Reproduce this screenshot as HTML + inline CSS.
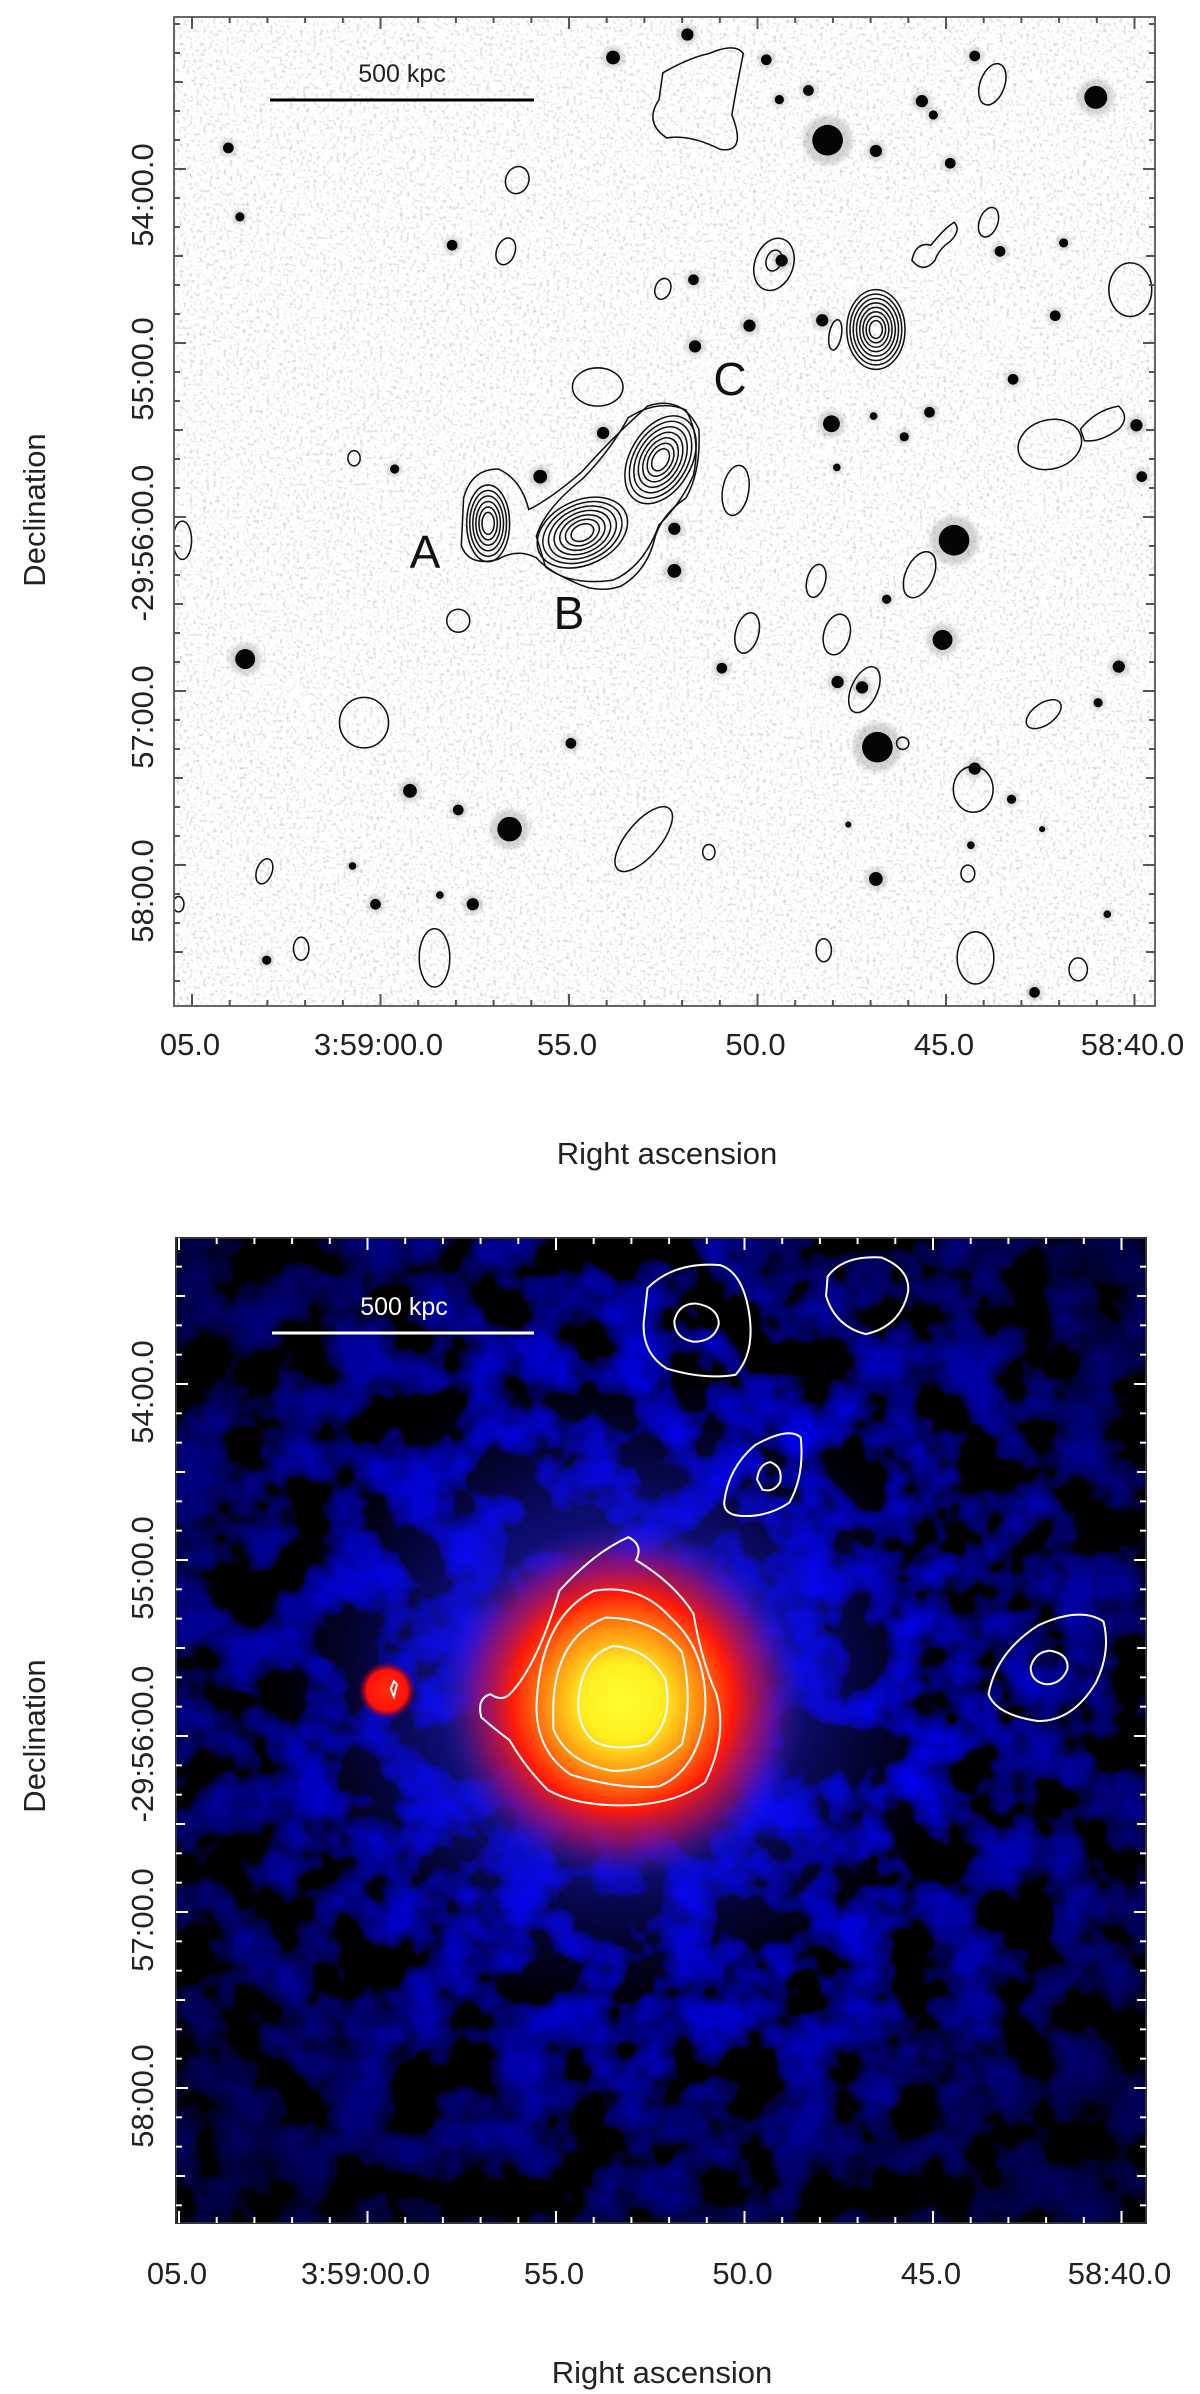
<!DOCTYPE html>
<html><head><meta charset="utf-8"><style>
html,body{margin:0;padding:0;background:#fff;}
svg{display:block;font-family:"Liberation Sans",sans-serif;}
</style></head><body>
<svg id="fig" width="1200" height="2394" viewBox="0 0 1200 2394" xmlns="http://www.w3.org/2000/svg">
<defs>
<filter id="speckle" x="0" y="0" width="100%" height="100%">
<feTurbulence type="fractalNoise" baseFrequency="0.3" numOctaves="2" seed="3"/>
<feColorMatrix type="matrix" values="0 0 0 0 0  0 0 0 0 0  0 0 0 0 0  -3 0 0 0 1.45"/>
</filter>
<filter id="bluenoise" x="0" y="0" width="100%" height="100%">
<feTurbulence type="fractalNoise" baseFrequency="0.018" numOctaves="3" seed="7"/>
<feColorMatrix type="matrix" values="0 0 0 0 0  0 0 0 0 0  3.2 0 0 0 -1.35  0 0 0 0 1"/>
</filter>
<filter id="blur3"><feGaussianBlur stdDeviation="3"/></filter>
<radialGradient id="vignette" cx="0.5" cy="0.45" r="0.62">
<stop offset="0" stop-color="#000" stop-opacity="0"/>
<stop offset="0.45" stop-color="#000" stop-opacity="0.1"/>
<stop offset="1" stop-color="#000" stop-opacity="0.65"/>
</radialGradient>
<radialGradient id="halo" cx="0.5" cy="0.5" r="0.5">
<stop offset="0" stop-color="#3030ff" stop-opacity="0.8"/>
<stop offset="0.55" stop-color="#1a1aee" stop-opacity="0.45"/>
<stop offset="1" stop-color="#0000aa" stop-opacity="0"/>
</radialGradient>
<radialGradient id="core" cx="0.5" cy="0.5" r="0.5">
<stop offset="0" stop-color="#ffff30"/>
<stop offset="0.22" stop-color="#ffee20"/>
<stop offset="0.42" stop-color="#ff8a10"/>
<stop offset="0.6" stop-color="#ff1a08"/>
<stop offset="0.8" stop-color="#b0105a" stop-opacity="0.6"/>
<stop offset="1" stop-color="#3020c0" stop-opacity="0"/>
</radialGradient>
<radialGradient id="pt" cx="0.5" cy="0.5" r="0.5">
<stop offset="0" stop-color="#ff3010"/>
<stop offset="0.7" stop-color="#ff1008"/>
<stop offset="1" stop-color="#600040" stop-opacity="0"/>
</radialGradient>
<clipPath id="clipTop"><rect x="174" y="17" width="981" height="989"/></clipPath>
<clipPath id="clipBot"><rect x="176" y="1238" width="970" height="985"/></clipPath>
</defs>

<!-- TOP PANEL -->
<g>
<rect x="174" y="17" width="981" height="989" fill="#fff"/>
<g clip-path="url(#clipTop)">
<rect x="174" y="17" width="981" height="989" fill="#000" filter="url(#speckle)" opacity="0.18"/>
<g id="stars" transform="scale(0.7663)"></g>
<g id="contoursTop" transform="scale(0.7663)" fill="none" stroke="#111" stroke-width="2"></g>
</g>
<rect x="174" y="17" width="981" height="989" fill="none" stroke="#666" stroke-width="2"/>
<g id="ticksTop" stroke="#555" stroke-width="2"></g>
<line x1="270" y1="100" x2="534" y2="100" stroke="#000" stroke-width="3"/>
<text x="402" y="82" font-size="25" text-anchor="middle" fill="#222">500 kpc</text>
<text x="425" y="568" font-size="46" text-anchor="middle" fill="#111">A</text>
<text x="569" y="629" font-size="46" text-anchor="middle" fill="#111">B</text>
<text x="730" y="395" font-size="46" text-anchor="middle" fill="#111">C</text>
<g id="labelsTop" font-size="31" fill="#222"></g>
<text x="667" y="1164" font-size="31" text-anchor="middle" fill="#222">Right ascension</text>
<text transform="translate(45,510) rotate(-90)" font-size="31" text-anchor="middle" fill="#222">Declination</text>
</g>

<!-- BOTTOM PANEL -->
<g>
<rect x="176" y="1238" width="970" height="985" fill="#000"/>
<g clip-path="url(#clipBot)">
<rect x="176" y="1238" width="970" height="985" filter="url(#bluenoise)"/>
<rect x="176" y="1238" width="970" height="985" fill="url(#vignette)"/>
<g transform="translate(0,1200) scale(0.7663)">
<ellipse cx="800" cy="640" rx="450" ry="430" fill="url(#halo)"/>
<ellipse cx="812" cy="655" rx="240" ry="235" fill="url(#core)"/>
<circle cx="505" cy="640" r="38" fill="url(#pt)"/>
</g>
<g id="contoursBot" transform="translate(0,1200) scale(0.7663)" fill="none" stroke="#fff" stroke-width="2.6"></g>
</g>
<rect x="176" y="1238" width="970" height="985" fill="none" stroke="#333" stroke-width="2"/>
<g id="ticksBot" stroke="#fff" stroke-width="2"></g>
<line x1="272" y1="1333" x2="534" y2="1333" stroke="#fff" stroke-width="3"/>
<text x="404" y="1315" font-size="25" text-anchor="middle" fill="#fff">500 kpc</text>
<g id="labelsBot" font-size="31" fill="#222"></g>
<text x="662" y="2383" font-size="31" text-anchor="middle" fill="#222">Right ascension</text>
<text transform="translate(45,1736) rotate(-90)" font-size="31" text-anchor="middle" fill="#222">Declination</text>
</g>
</svg>
<script>
const NS="http://www.w3.org/2000/svg";
const raLabels=["05.0","3:59:00.0","55.0","50.0","45.0","58:40.0"];
const decLabels=["54:00.0","55:00.0","-29:56:00.0","57:00.0","58:00.0"];
const raSeconds=[65,60,55,50,45,40];
const decMinutes=[54,55,56,57,58];
// stars: x, y, radius (zoom coordinates)
const starX=[1080,1430,1245,1145,665,320,1230,897,800,1000,1272,1055,1017,1203,1218,1143,1240,298,1305,1388,1377,590,905,907,978,1073,1085,1213,1322,1140,1180,1092,1483,1490,705,515,787,880,880,1157,1093,1125,1460,942,1433,745,1272,1320,535,598,617,490,1143,1350,348,1020,313,460,1267,1445,574,1107,1360];
const starY=[183,127,705,975,1082,860,835,45,75,78,73,118,130,132,150,197,213,193,328,317,412,320,365,452,425,418,553,538,495,543,570,610,555,622,622,612,565,690,745,782,890,897,870,872,917,970,1003,1043,1032,1057,1180,1180,1147,1295,1253,340,283,1130,1103,1193,1168,1076,1082];
const starR=[20,15,20,20,16,13,13,8,9,7,7,7,6,8,6,8,7,7,7,6,7,7,7,8,8,8,11,7,7,5,6,5,8,7,9,6,8,8,9,6,8,8,8,7,6,7,8,6,9,7,8,7,9,7,6,8,6,5,5,5,5,4,4];

function mk(tag,attrs,parent){const e=document.createElementNS(NS,tag);for(const k in attrs)e.setAttribute(k,attrs[k]);parent.appendChild(e);return e;}

const sg=document.getElementById('stars');
for(let i=0;i<starX.length;i++){
  const c=mk('circle',{cx:starX[i],cy:starY[i],r:starR[i]*1.6,fill:'#888',opacity:0.35,filter:'url(#blur3)'},sg);
  
  
  const d=mk('circle',{cx:starX[i],cy:starY[i],r:starR[i],fill:'#050505'},sg);
  
  
}

const ctX=[675,660,865,1090,1290,1295,1475,780,462,960,1065,1200,598,975,1092,1128,475,1362,1270,1178,840,925,345,1263,393,567,1075,1273,1407,1370,238,233,1010,1010];
const ctY=[235,328,377,437,290,110,378,505,598,640,758,750,810,826,828,900,943,932,1030,970,1095,1112,1137,1140,1238,1250,1240,1250,1265,580,705,1180,345,340];
const ctRX=[15,12,10,8,12,16,28,33,8,17,12,18,15,15,17,17,32,26,26,8,22,8,10,9,10,20,10,24,12,42,12,7,25,10];
const ctRY=[18,18,14,20,20,28,35,25,10,33,22,32,15,27,27,32,33,14,30,8,52,10,17,11,15,38,15,34,15,32,25,10,35,14];
const ctRot=[20,20,20,10,20,20,0,0,0,10,15,25,0,15,15,25,0,-35,0,0,40,0,20,0,0,0,0,0,0,-15,0,0,20,20];
const tg=document.getElementById('contoursTop');
for(let i=0;i<ctX.length;i++){
  const e=mk('ellipse',{cx:ctX[i],cy:ctY[i],rx:ctRX[i],ry:ctRY[i],transform:`rotate(${ctRot[i]} ${ctX[i]} ${ctY[i]})`},tg);
  
  
}
const nestX=[637,760,862,1143];
const nestY=[683,695,600,430];
const nestRX=[28,62,62,38];
const nestRY=[50,42,40,52];
const nestRot=[0,-25,-60,0];
const nestN=[6,7,7,8];
for(let i=0;i<nestX.length;i++){
  for(let k=0;k<nestN[i];k++){
    const f=1-k/(nestN[i]+1);
    const e=mk('ellipse',{cx:nestX[i],cy:nestY[i],rx:nestRX[i]*f,ry:nestRY[i]*f,transform:`rotate(${nestRot[i]} ${nestX[i]} ${nestY[i]})`},tg);
    
    
  }
}
const p1=mk('path',{d:'M605,650 Q615,612 650,612 Q680,625 690,665 Q720,650 760,615 Q800,570 845,530 Q890,515 912,560 Q915,615 895,650 Q865,670 855,700 Q845,745 810,765 Q780,775 750,760 Q715,745 700,728 Q675,715 650,730 Q612,740 602,712 Z'},tg);


const p2=mk('path',{d:'M700,700 Q710,665 760,625 Q795,590 820,545 Q860,520 895,535 Q915,570 905,620 Q890,655 860,685 Q840,740 800,757 Q745,765 712,740 Z'},tg);


const p3=mk('path',{d:'M865,95 Q900,75 925,70 Q960,55 970,70 Q960,120 955,150 Q975,200 940,195 Q900,175 870,180 Q840,160 860,130 Z'},tg);


const p4=mk('path',{d:'M1190,340 Q1195,315 1215,320 Q1230,300 1245,290 Q1255,300 1240,315 Q1225,325 1220,340 Q1205,358 1190,340 Z'},tg);


const p5=mk('path',{d:'M1410,560 Q1430,535 1460,530 Q1475,545 1460,560 Q1435,578 1415,575 Z'},tg);



const bg=document.getElementById('contoursBot');
const bPaths=['M845,115 Q880,80 940,85 Q970,95 978,150 Q985,200 960,228 Q920,235 870,220 Q838,200 840,160 Z',
'M880,158 Q885,135 908,135 Q938,140 938,162 Q932,185 905,185 Q880,180 880,158 Z',
'M1080,100 Q1100,72 1150,75 Q1188,90 1185,120 Q1175,165 1130,175 Q1090,165 1078,125 Z',
'M945,395 Q950,350 985,320 Q1030,295 1045,310 Q1050,360 1030,395 Q1000,415 965,412 Q945,410 945,395 Z',
'M988,365 Q990,345 1005,342 Q1022,348 1018,368 Q1010,382 995,378 Z',
'M1290,645 Q1300,590 1355,555 Q1410,530 1440,550 Q1450,590 1430,630 Q1400,680 1355,680 Q1300,672 1290,645 Z',
'M1345,610 Q1350,590 1370,588 Q1395,592 1393,612 Q1385,632 1365,632 Q1345,628 1345,610 Z',
'M755,650 Q760,595 800,582 Q845,585 868,625 Q880,680 845,710 Q805,720 778,708 Q752,690 755,650 Z',
'M722,660 Q725,570 790,545 Q855,545 890,590 Q905,650 890,710 Q855,745 800,745 Q740,735 722,690 Z',
'M700,660 Q705,545 775,510 Q835,500 875,545 Q925,590 920,670 Q910,745 860,765 Q810,770 745,750 Q700,720 700,660 Z',
'M628,675 Q622,650 640,645 Q655,655 665,645 Q700,610 730,510 Q775,460 820,440 Q840,450 830,470 Q880,500 905,540 Q915,600 935,645 Q950,700 920,760 Q880,790 810,790 Q750,790 715,770 Q685,740 665,705 Q645,690 628,675 Z',
'M510,638 L514,628 L518,632 L514,648 Z'];
bPaths.forEach(d=>{
  const p=mk('path',{d:d},bg);
  
  
});

function axes(opt){
  const tg=document.getElementById(opt.tickId), lg=document.getElementById(opt.labelId);
  const xOf=s=>opt.x0+(65-s)*opt.pxPerSec;
  const yOf=m=>opt.y54+(m-54)*opt.pxPerMin;
  for(let s=70;s>=35;s--){
    const x=xOf(s); if(x<opt.L+1||x>opt.R-1) continue;
    const major=s%5===0, len=major?12:6;
    const a=mk('line',{x1:x,y1:opt.T,x2:x,y2:opt.T+len},tg);
    
    
    const b=mk('line',{x1:x,y1:opt.B,x2:x,y2:opt.B-len},tg);
    
    
  }
  for(let m=53;m<=59;m+=1/6){
    const y=yOf(m); if(y<opt.T+1||y>opt.B-1) continue;
    const k=Math.round((m-53)*6);
    const major=k%6===0, half=k%3===0, len=major?12:(half?9:6);
    const a=mk('line',{x1:opt.L,y1:y,x2:opt.L+len,y2:y},tg);
    
    
    const b=mk('line',{x1:opt.R,y1:y,x2:opt.R-len,y2:y},tg);
    
    
  }
  raLabels.forEach((t,i)=>{
    const e=mk('text',{x:xOf(raSeconds[i])-2,y:opt.xlabY,'text-anchor':'middle'},lg);
    e.textContent=t;
    
    
  });
  decLabels.forEach((t,i)=>{
    const y=yOf(decMinutes[i])+opt.ylabOff;
    const e=mk('text',{transform:`translate(${opt.ylabX},${y}) rotate(-90)`,'text-anchor':'middle'},lg);
    e.textContent=t;
    
    
  });
}
axes({tickId:'ticksTop',labelId:'labelsTop',L:174,R:1155,T:17,B:1006,x0:192,pxPerSec:37.7,y54:169,pxPerMin:174,xlabY:1055,ylabX:153,ylabOff:26});
axes({tickId:'ticksBot',labelId:'labelsBot',L:176,R:1146,T:1238,B:2223,x0:179,pxPerSec:37.7,y54:1384,pxPerMin:176,xlabY:2284,ylabX:153,ylabOff:8});
</script>
</body></html>
